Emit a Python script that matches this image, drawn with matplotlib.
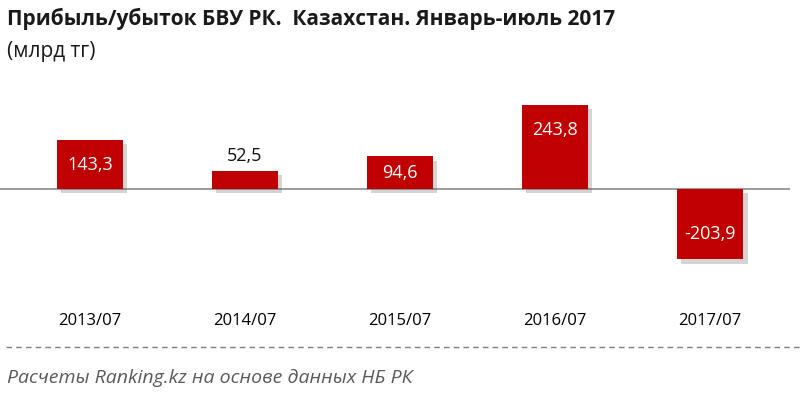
import matplotlib.pyplot as plt
import matplotlib.patheffects as pe
from matplotlib.lines import Line2D

plt.rcParams['font.family'] = ['Open Sans', 'DejaVu Sans']

# data
periods = ["2013/07", "2014/07", "2015/07", "2016/07", "2017/07"]
profit = [143.3, 52.5, 94.6, 243.8, -203.9]
labels = ["143,3", "52,5", "94,6", "243,8", "-203,9"]

fig = plt.figure(figsize=(8, 3.99), dpi=100)
ax = fig.add_axes([0.0, 1 - 270 / 399, 790 / 800, 175 / 399])

x = list(range(len(periods)))
bars = ax.bar(x, profit, width=0.43, color="#c00000", zorder=3)
for b in bars:
    b.set_path_effects([pe.SimplePatchShadow(offset=(3, -3), shadow_rgbFace="#555555", alpha=0.25),
                        pe.Normal()])

ax.axhline(0, color="#8c8c8c", lw=1.2, zorder=2)
ax.set_xlim(-0.58, 4.516)
ax.set_ylim(-234.8, 272.5)

# value labels
for xi, v, lab in zip(x, profit, labels):
    if abs(v) < 60:
        ax.annotate(lab, (xi, v), xytext=(0, 11), textcoords="offset points",
                    ha="center", va="center", fontsize=13, color="#111111")
    else:
        sign = 1 if v > 0 else -1
        off = min(18, abs(v) * 0.345 * 0.75 / 2)
        ax.annotate(lab, (xi, v), xytext=(0, -sign * off), textcoords="offset points",
                    ha="center", va="center", fontsize=13, color="white")

ax.set_xticks(x)
ax.set_xticklabels(periods, fontsize=12)
ax.tick_params(axis="x", length=0, pad=31)
ax.set_yticks([])
for s in ax.spines.values():
    s.set_visible(False)

fig.text(0.009, 1 - 19 / 399, "Прибыль/убыток БВУ РК.  Казахстан. Январь-июль 2017",
         fontsize=15, fontweight="bold", color="#1a1a1a", va="center")
fig.text(0.009, 1 - 51 / 399, "(млрд тг)", fontsize=15, color="#1a1a1a", va="center")

fig.add_artist(Line2D([6 / 800, 1.0], [1 - 347 / 399] * 2, color="#7f7f7f",
                      lw=1, linestyle=(0, (4, 3)), transform=fig.transFigure))
fig.text(0.009, 1 - 378 / 399, "Расчеты Ranking.kz на основе данных НБ РК",
         fontsize=14, style="italic", color="#595959", va="center")

fig.savefig("out.png", dpi=100, facecolor="white")
